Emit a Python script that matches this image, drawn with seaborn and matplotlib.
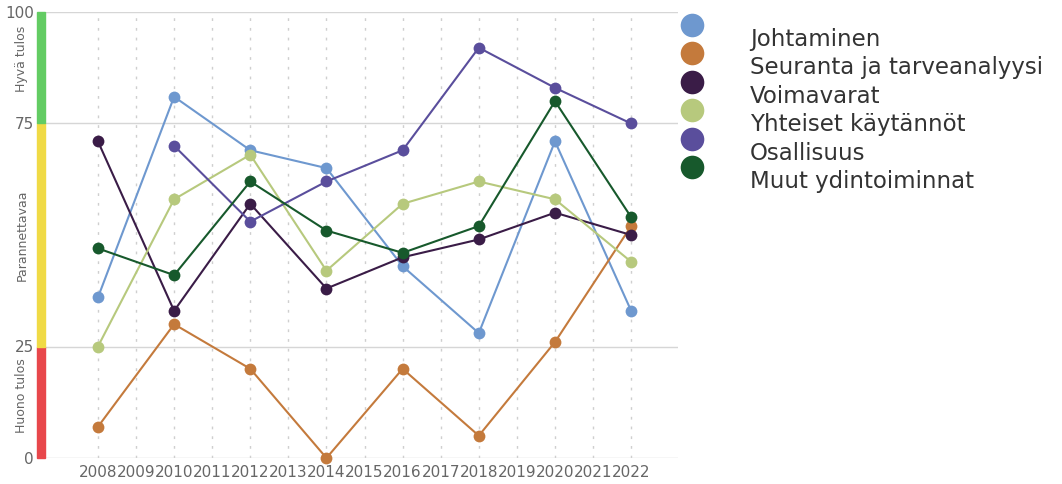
import matplotlib
matplotlib.use("Agg")
import matplotlib.pyplot as plt
import pandas as pd
import seaborn as sns
from matplotlib.lines import Line2D
from matplotlib.patches import Rectangle
from matplotlib.transforms import blended_transform_factory

# Data
years = [2008, 2010, 2012, 2014, 2016, 2018, 2020, 2022]
series_names = ["Johtaminen", "Seuranta ja tarveanalyysi", "Voimavarat",
                "Yhteiset käytännöt", "Osallisuus", "Muut ydintoiminnat"]
johtaminen = [36, 81, 69, 65, 43, 28, 71, 33]
seuranta = [7, 30, 20, 0, 20, 5, 26, 52]
voimavarat = [71, 33, 57, 38, 45, 49, 55, 50]
yhteiset = [25, 58, 68, 42, 57, 62, 58, 44]
osallisuus = [None, 70, 53, 62, 69, 92, 83, 75]
muut = [47, 41, 62, 51, 46, 52, 80, 54]
colors = ["#6e98cf", "#c47a3c", "#3a1c47", "#b7c97d", "#5a4e9c", "#17592c"]

band_labels = ["Huono tulos", "Parannettavaa", "Hyvä tulos"]
band_edges = [0, 25, 75, 100]
band_colors = ["#e8474b", "#f0da45", "#63cc63"]

rows = []
for name, vals in zip(series_names, [johtaminen, seuranta, voimavarat, yhteiset, osallisuus, muut]):
    for y, v in zip(years, vals):
        if v is not None:
            rows.append({"vuosi": y, "tulos": v, "osa-alue": name})
df = pd.DataFrame(rows)

sns.set_style("white")
plt.rcParams["font.family"] = ["DejaVu Sans"]

fig = plt.figure(figsize=(10.62, 4.84), dpi=100)
ax = fig.add_axes([45 / 1062, 26 / 484, 633 / 1062, 446 / 484])

sns.lineplot(data=df, x="vuosi", y="tulos", hue="osa-alue", hue_order=series_names,
             palette=dict(zip(series_names, colors)), marker="o", markersize=8.5,
             markeredgewidth=0, linewidth=1.5, legend=False, ax=ax, clip_on=False)

ax.set_xlim(2006.61, 2023.23)
ax.set_ylim(0, 100)
ax.set_xticks(range(2008, 2023))
ax.set_yticks([0, 25, 75, 100])
ax.tick_params(length=0, labelsize=11, labelcolor="#666666")
ax.tick_params(axis="y", pad=8)
ax.tick_params(axis="x", pad=5)
ax.set_xlabel("")
ax.set_ylabel("")
for s in ax.spines.values():
    s.set_visible(False)
ax.grid(axis="y", color="#d6d6d6", linewidth=1)
ax.grid(axis="x", color="#cfcfcf", linewidth=1, linestyle=(0, (2, 5)))
ax.set_axisbelow(True)

# coloured result bands at the left edge
trans = blended_transform_factory(ax.transAxes, ax.transData)
for lab, lo, hi, c in zip(band_labels, band_edges[:-1], band_edges[1:], band_colors):
    ax.add_patch(Rectangle((-8 / 633, lo), 8 / 633, hi - lo, transform=trans,
                           color=c, clip_on=False, zorder=3))
label_pos = [14, 50, 89.5]
for lab, yp in zip(band_labels, label_pos):
    ax.text(-23 / 633, yp, lab, transform=trans, rotation=90, ha="center",
            va="center", fontsize=9, color="#666666")

# legend: big dots, names set a bit lower
dots = [Line2D([], [], marker="o", ls="", ms=17, color=c, mew=0) for c in colors]
fig.legend(dots, [""] * len(dots), loc="upper left", bbox_to_anchor=(681 / 1062, 1 - 15 / 484),
           frameon=False, fontsize=16.5, labelspacing=0.235, handlelength=1,
           handletextpad=0, borderpad=0, borderaxespad=0)
blank = [Line2D([], [], ls="", marker="") for _ in colors]
fig.legend(blank, series_names, loc="upper left", bbox_to_anchor=(750 / 1062, 1 - 28 / 484),
           frameon=False, fontsize=16.5, labelspacing=0.235, handlelength=0,
           handletextpad=0, borderpad=0, borderaxespad=0, labelcolor="#333333")

fig.savefig("out.png", dpi=100)
